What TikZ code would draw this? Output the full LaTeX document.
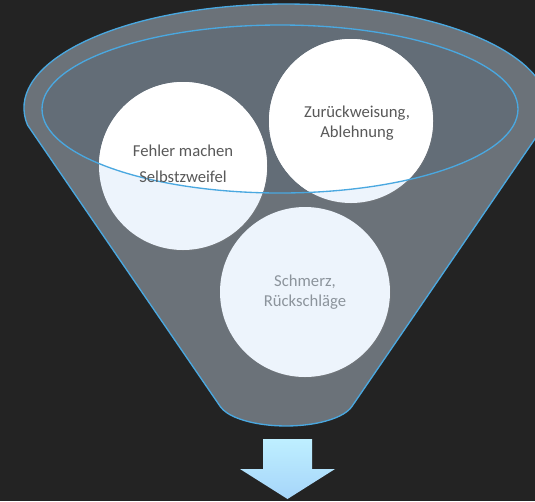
\documentclass[tikz,border=0pt]{standalone}
\usepackage{fontspec}
\setmainfont{Carlito}
\usetikzlibrary{shadows}

\definecolor{bgcolor}{RGB}{35,35,35}
\definecolor{funnelcolor}{RGB}{107,114,121}
\definecolor{mouthcolor}{RGB}{99,109,119}
\definecolor{rimcolor}{RGB}{74,168,224}
\definecolor{ballcolor}{RGB}{237,244,252}
\definecolor{textcolor}{RGB}{89,89,89}
\definecolor{fadedtext}{RGB}{140,148,156}
\definecolor{arrowtop}{RGB}{190,239,255}
\definecolor{arrowbottom}{RGB}{166,213,250}

\tikzset{
  ball/.style={circle, fill=ballcolor, draw=none, inner sep=0pt,
    drop shadow={opacity=0.25, shadow xshift=0.8pt, shadow yshift=-0.8pt}},
  balltext/.style={align=center, font=\fontsize{12.5}{15}\selectfont, text=textcolor},
  rim/.style={draw=rimcolor, line width=1pt}
}

\begin{document}
\begin{tikzpicture}[x=0.75pt, y=-0.75pt]
\useasboundingbox (0,0) rectangle (535,501);
\clip (0,0) rectangle (535,501);
\fill[bgcolor] (0,0) rectangle (535,501);

% Funnel body
\coordinate (M) at (280,109); % centre of the inner rim
\filldraw[fill=funnelcolor, rim]
  (27.5,125) arc[start angle=170.6, end angle=369.4, x radius=262, y radius=104]
  -- (351.8,406.6) arc[start angle=14.8, end angle=165.2, x radius=68, y radius=26] -- cycle;
\fill[mouthcolor] (M) ellipse[x radius=238, y radius=84];

% Balls in the funnel
\node[ball, minimum size=126pt] (fehler) at (183,166) {};
\node[ball, minimum size=123pt] (zurueck) at (351,121) {};
\node[ball, minimum size=127.5pt] (schmerz) at (305,292) {};

% White where the balls sit in the opening
\begin{scope}
  \clip (M) ellipse[x radius=238, y radius=84];
  \fill[white] (fehler.center) circle[radius=84];
  \fill[white] (zurueck.center) circle[radius=82];
  \fill[white] (schmerz.center) circle[radius=85];
\end{scope}
\path[rim] (M) ellipse[x radius=238, y radius=84];

% Labels
\node[balltext, font=\fontsize{12.5}{19.5}\selectfont] (fehlertext) at ([yshift=1.5pt]fehler.center) {Fehler machen\\Selbstzweifel};
\node[balltext] (zuruecktext) at ([xshift=4.5pt, yshift=-1.5pt]zurueck.center) {Zurückweisung,\\Ablehnung};
\node[balltext, text=fadedtext] (schmerztext) at (schmerz.center) {Schmerz,\\Rückschläge};

% Arrow out of the spout
\shade[top color=arrowtop, bottom color=arrowbottom]
  (263,439) -- (312,439) -- (312,469) -- (335,469) -- (287.5,499)
  -- (240,469) -- (263,469) -- cycle;

\end{tikzpicture}
\end{document}
